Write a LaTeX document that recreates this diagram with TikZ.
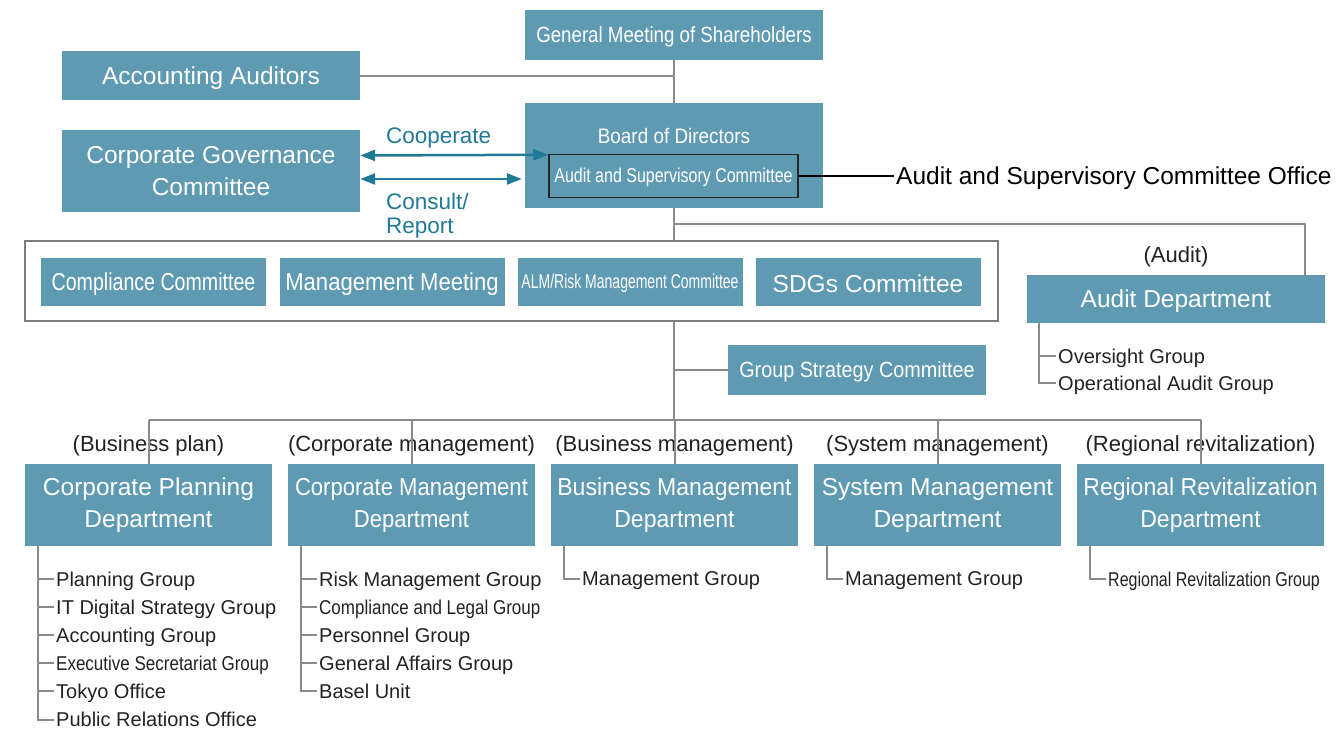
\documentclass[tikz,border=0pt]{standalone}
\usepackage{fontspec}
\setmainfont{Liberation Sans}
\newfontfamily\slimA[FakeStretch=0.94]{Liberation Sans}
\newfontfamily\slimB[FakeStretch=0.9]{Liberation Sans}
\newfontfamily\slimC[FakeStretch=0.85]{Liberation Sans}
\newfontfamily\slimD[FakeStretch=0.8]{Liberation Sans}
\newfontfamily\slimE[FakeStretch=0.7]{Liberation Sans}
\usetikzlibrary{arrows.meta}
\definecolor{boxblue}{RGB}{95,154,179}
\definecolor{linkteal}{RGB}{32,121,149}
\definecolor{wiregray}{RGB}{138,138,140}
\definecolor{framegray}{RGB}{125,125,127}
\definecolor{ink}{RGB}{34,34,34}
\begin{document}
\begin{tikzpicture}[x=1pt,y=-1pt,
  box/.style={fill=boxblue, text=white, inner sep=0pt, align=center, font=\fontsize{24.5}{32}\selectfont, execute at begin node=\rule{0pt}{0.9em}},
  dept/.style={box, minimum width=247pt, minimum height=82pt},
  cmte/.style={box, minimum width=225pt, minimum height=48pt},
  wire/.style={draw=wiregray, line width=2pt},
  twoway/.style={draw=linkteal, line width=2.5pt, arrows={Triangle[length=15pt,width=11pt]-Triangle[length=15pt,width=11pt]}},
  note/.style={text=linkteal, inner sep=0pt, font=\fontsize{22.5}{24}\selectfont},
  tag/.style={text=ink, inner sep=0pt, text depth=0pt, font=\fontsize{22}{26}\selectfont},
  item/.style={anchor=west, text=ink, inner xsep=2pt, inner ysep=0pt, text depth=0pt, font=\fontsize{20}{24}\selectfont}]
\useasboundingbox (0,0) rectangle (1342,730);

% top of the chart
\node[box, minimum width=298pt, minimum height=50pt, font=\slimC\fontsize{22}{26}\selectfont] (gms) at (674,35) {General Meeting of Shareholders};
\node[box, minimum width=298pt, minimum height=49pt] (acc) at (211,76) {Accounting Auditors};
\node[box, minimum width=298pt, minimum height=82pt] (cgc) at (211,171) {Corporate Governance\\Committee};
\node[box, minimum width=298pt, minimum height=105pt] (bod) at (674,155.5) {};
\node[box, fill=none, font=\slimB\fontsize{21}{25}\selectfont] (bodt) at (674,134.5) {Board of Directors};
\node[box, draw=black!85, line width=1.5pt, minimum width=249pt, minimum height=43pt, font=\slimD\fontsize{20}{24}\selectfont] (asc) at (673.5,176) {Audit and Supervisory Committee};
\node[anchor=west, inner sep=2pt, text depth=0pt, text=black, font=\fontsize{24.5}{29}\selectfont] (aso) at (asc.east -| 894,0) {Audit and Supervisory Committee Office};
\draw[wire] (gms.south) -- (bod.north);
\draw[wire] (acc.east) -- (acc.east -| gms.south);
\draw[black, line width=1.2pt] (asc.east) -- (aso.west);

% governance links
\draw[twoway] ([yshift=15.5pt]cgc.east) -- ([yshift=-1pt]asc.north west);
\draw[twoway] ([yshift=-8pt]cgc.east) -- ([yshift=-23.5pt,xshift=-3pt]bod.west);
\node[note, anchor=west] (coop) at (386,138) {Cooperate};
\node[note, anchor=north west, align=left] (cons) at (386,192.5) {Consult/\\Report};

% committees
\node[draw=framegray, line width=2pt, minimum width=973pt, minimum height=80pt, inner sep=0pt] (frm) at (511.5,281) {};
\node[cmte, font=\slimD\fontsize{24.5}{29}\selectfont] (cc) at (153.5,282) {Compliance Committee};
\node[cmte, font=\slimB\fontsize{24.5}{29}\selectfont] (mm) at (392,282) {Management Meeting};
\node[cmte, font=\slimE\fontsize{20}{24}\selectfont] (alm) at (630,282) {ALM/Risk Management Committee};
\node[cmte] (sdg) at (868,282) {SDGs Committee};
\draw[wire] (bod.south) -- (bod.south |- frm.north);

% audit
\coordinate (audj) at (674,224);
\node[box, minimum width=298pt, minimum height=48pt] (aud) at (1176,299) {Audit Department};
\node[tag] (audt) at (1176,255) {(Audit)};
\draw[wire] (audj) -| ([xshift=-20pt]aud.north east);
\node[item] (ag1) at (1056,356) {Oversight Group};
\node[item] (ag2) at (1056,383) {Operational Audit Group};
\draw[wire] ([xshift=12pt]aud.south west) |- (ag1.west);
\draw[wire] ([xshift=12pt]aud.south west) |- (ag2.west);

% group strategy
\coordinate (hub) at (674,420);
\draw[wire] (bod.south |- frm.south) -- (hub);
\node[box, minimum width=258pt, minimum height=50pt, font=\slimB\fontsize{22}{26}\selectfont] (gsc) at (857,370) {Group Strategy Committee};
\draw[wire] (gsc.west -| hub) -- (gsc.west);

% departments
\node[dept] (cpd) at (148.5,505) {Corporate Planning\\Department};
\node[dept, font=\slimB\fontsize{24.5}{32}\selectfont] (cmd) at (411.5,505) {Corporate Management\\Department};
\node[dept, font=\slimA\fontsize{24.5}{32}\selectfont] (bmd) at (674.5,505) {Business Management\\Department};
\node[dept] (smd) at (937.5,505) {System Management\\Department};
\node[dept, font=\slimA\fontsize{24.5}{32}\selectfont] (rrd) at (1200.5,505) {Regional Revitalization\\Department};
\node[tag] (cpdt) at (148.5,444) {(Business plan)};
\node[tag] (cmdt) at (411.5,444) {(Corporate management)};
\node[tag] (bmdt) at (674.5,444) {(Business management)};
\node[tag] (smdt) at (937.5,444) {(System management)};
\node[tag] (rrdt) at (1200.5,444) {(Regional revitalization)};
\draw[wire] (cpd.north |- hub) -- (rrd.north |- hub);
\draw[wire] (cpd.north |- hub) -- (cpd.north);
\draw[wire] (cmd.north |- hub) -- (cmd.north);
\draw[wire] (bmd.north |- hub) -- (bmd.north);
\draw[wire] (smd.north |- hub) -- (smd.north);
\draw[wire] (rrd.north |- hub) -- (rrd.north);

% groups under each department
\node[item] (cp1) at (54,579) {Planning Group};
\node[item] (cp2) at (54,607.1) {IT Digital Strategy Group};
\node[item] (cp3) at (54,635.2) {Accounting Group};
\node[item] (cp4) at (54,663.3) {\slimC Executive Secretariat Group};
\node[item] (cp5) at (54,691.4) {Tokyo Office};
\node[item] (cp6) at (54,719.5) {Public Relations Office};
\draw[wire] ([xshift=13pt]cpd.south west) |- (cp1.west);
\draw[wire] ([xshift=13pt]cpd.south west) |- (cp2.west);
\draw[wire] ([xshift=13pt]cpd.south west) |- (cp3.west);
\draw[wire] ([xshift=13pt]cpd.south west) |- (cp4.west);
\draw[wire] ([xshift=13pt]cpd.south west) |- (cp5.west);
\draw[wire] ([xshift=13pt]cpd.south west) |- (cp6.west);

\node[item] (cm1) at (317,579) {Risk Management Group};
\node[item] (cm2) at (317,607.1) {\slimC Compliance and Legal Group};
\node[item] (cm3) at (317,635.2) {Personnel Group};
\node[item] (cm4) at (317,663.3) {General Affairs Group};
\node[item] (cm5) at (317,691.4) {Basel Unit};
\draw[wire] ([xshift=13pt]cmd.south west) |- (cm1.west);
\draw[wire] ([xshift=13pt]cmd.south west) |- (cm2.west);
\draw[wire] ([xshift=13pt]cmd.south west) |- (cm3.west);
\draw[wire] ([xshift=13pt]cmd.south west) |- (cm4.west);
\draw[wire] ([xshift=13pt]cmd.south west) |- (cm5.west);

\node[item] (bm1) at (580,579) {Management Group};
\draw[wire] ([xshift=13pt]bmd.south west) |- (bm1.west);
\node[item] (sm1) at (843,579) {Management Group};
\draw[wire] ([xshift=13pt]smd.south west) |- (sm1.west);
\node[item] (rr1) at (1106,579) {\slimD Regional Revitalization Group};
\draw[wire] ([xshift=13pt]rrd.south west) |- (rr1.west);
\end{tikzpicture}
\end{document}
